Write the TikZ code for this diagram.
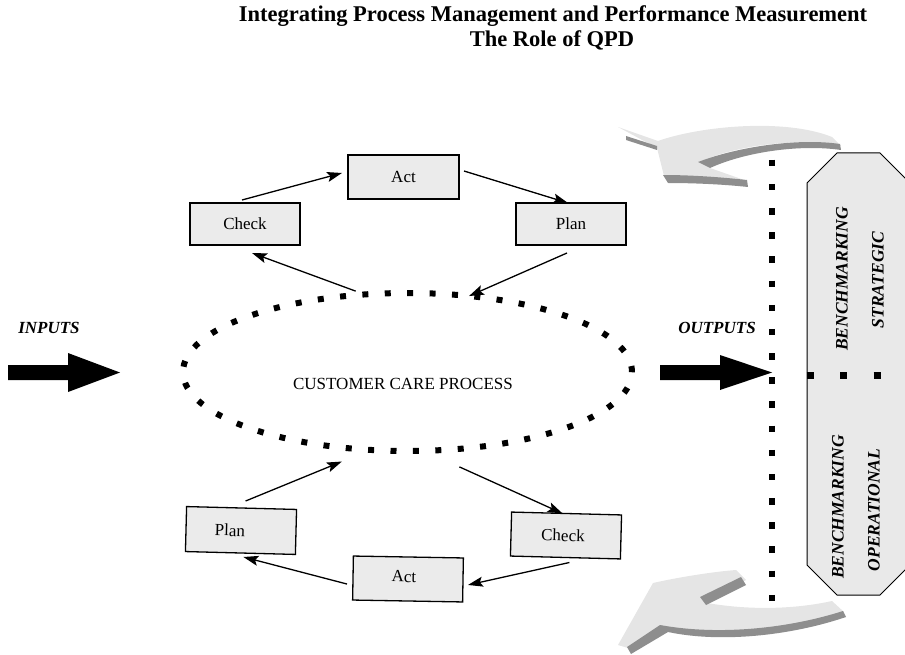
\documentclass[tikz,border=0pt]{standalone}
\usepackage{fontspec}
\setmainfont{Liberation Serif}
\usetikzlibrary{arrows.meta,shapes.geometric}
\definecolor{boxfill}{RGB}{235,235,235}
\definecolor{octfill}{RGB}{233,233,233}
\definecolor{swoosh}{RGB}{229,229,229}
\definecolor{swooshshade}{RGB}{142,142,142}
\begin{document}
\begin{tikzpicture}[x=1pt,y=-1pt,
  stepbox/.style={draw,fill=boxfill,line width=1.3pt,inner sep=0pt,outer sep=0pt,
    minimum width=110pt,minimum height=43pt,font=\fontsize{17}{20}\selectfont},
  flow/.style={line width=1.3pt,-{Stealth[length=15pt,width=10pt,inset=3pt]}},
  procring/.style={ellipse,draw,line width=6pt,dash pattern=on 6pt off 16.42pt,
    inner sep=0pt,outer sep=0pt,minimum width=449pt,minimum height=158pt},
  bodytext/.style={inner sep=0pt,font=\fontsize{17}{20}\selectfont},
  tagtext/.style={inner sep=0pt,font=\fontsize{17}{20}\selectfont\bfseries\itshape},
  sidetext/.style={inner sep=0pt,rotate=90,font=\fontsize{17.5}{20}\selectfont\bfseries\itshape},
  titletext/.style={inner sep=0pt,font=\fontsize{22.5}{26}\selectfont\bfseries},
  bigarrow/.style={fill=black},
]
\useasboundingbox (0,0) rectangle (905,655);

% title
\node[titletext] (title1) at (553,16) {Integrating Process Management and Performance Measurement};
\node[titletext] (title2) at (552,40) {The Role of QPD};

% curved feedback arrows (light face with darker side faces)
\fill[swoosh] (618,127) -- (658,141) .. controls (700,126) and (785,118) .. (832,137)
  -- (841,146) .. controls (795,137) and (735,146) .. (699,162) -- (710,168) -- (747,181)
  -- (664,176) -- (657,148) -- cycle;
\fill[swooshshade] (698,162) .. controls (740,146) and (800,138) .. (840,144)
  -- (841,150) .. controls (800,144) and (745,152) .. (710,168) -- cycle;
\fill[swooshshade] (663,175) .. controls (690,175) and (720,177) .. (747,180)
  -- (748,187) .. controls (720,184) and (690,183) .. (668,183) -- cycle;
\fill[swooshshade] (626,136) -- (657,146) -- (657,150) -- (626,140) -- cycle;

\fill[swoosh] (618,645) -- (653,583) .. controls (675,578) and (710,572) .. (736,570)
  -- (746,580) -- (707,603) .. controls (760,612) and (805,607) .. (832,601)
  -- (844,612) .. controls (790,628) and (720,636) .. (668,629) -- (628,648) -- cycle;
\fill[swooshshade] (700,597) -- (741,577) -- (746,585) -- (706,605) -- cycle;
\fill[swooshshade] (627,647) -- (660,625) .. controls (720,636) and (790,628) .. (843,611)
  -- (846,617) .. controls (790,636) and (720,643) .. (668,632) -- (631,654) -- cycle;

% benchmarking panel
\filldraw[fill=octfill,draw=black,line width=1pt]
  (837,153) -- (880,153) -- (910,183) -- (910,565) -- (880,595) -- (837,595)
  -- (807,565) -- (807,183) -- cycle;
\draw[line width=7pt,dash pattern=on 7pt off 26.5pt] (806.5,375) -- (905,375);
\node[sidetext] (benchS) at (842,279) {BENCHMARKING};
\node[sidetext] (strat) at (878,280) {STRATEGIC};
\node[sidetext] (benchO) at (838,507) {BENCHMARKING};
\node[sidetext] (oper) at (874,510) {OPERATIONAL};

% boundary of the process
\draw[line width=6.5pt,dash pattern=on 6.5pt off 17.67pt] (772,159.75) -- (772,602);

% process
\node[procring] (proc) at (407.5,372) {};
\node[bodytext] (proctext) at (403,384) {CUSTOMER CARE PROCESS};

% inputs and outputs
\node[tagtext] (inlabel) at (49,328) {INPUTS};
\node[tagtext] (outlabel) at (717,328) {OUTPUTS};
\fill[bigarrow] (8,365) -- (68,365) -- (68,353) -- (120,372.5) -- (68,392) -- (68,380) -- (8,380) -- cycle;
\fill[bigarrow] (660,365) -- (720,365) -- (720,355) -- (772,372.5) -- (720,390) -- (720,380) -- (660,380) -- cycle;

% upper PDCA cycle
\node[stepbox,minimum width=111pt,minimum height=44pt] (actT) at (403.5,177) {Act};
\node[stepbox,minimum height=42pt] (checkT) at (245,224) {Check};
\node[stepbox,minimum height=42pt] (planT) at (571,224) {Plan};

% lower PDCA cycle
\node[stepbox,minimum height=45pt,rotate=-1.5] (planB) at (241,530.5) {Plan\hspace*{22pt}};
\node[stepbox,minimum height=44pt,rotate=-1.5] (checkB) at (566,535.5) {\raisebox{-2pt}{Check}\hspace*{6pt}};
\node[stepbox,minimum height=44pt,rotate=-1] (actB) at (408,579) {\raisebox{5pt}{Act}\hspace*{8pt}};

% connectors, upper cycle
\draw[flow] ([xshift=-3pt,yshift=3pt]checkT.north) -- ([xshift=-6pt,yshift=4pt]actT.west);
\draw[flow] ([xshift=5pt,yshift=6pt]actT.east) -- ([xshift=-3pt]planT.north);
\draw[flow] ([xshift=-4pt,yshift=-8pt]planT.south) -- (proc.51.3);
\draw[flow] ([yshift=4pt]proc.124) -- ([xshift=7pt,yshift=-8pt]checkT.south);

% connectors, lower cycle
\draw[flow] ([xshift=4pt,yshift=7pt]planB.north) -- ([yshift=-14pt]proc.229.6);
\draw[flow] ([yshift=-18pt]proc.304.4) -- ([xshift=-4pt]checkB.north);
\draw[flow] ([xshift=4pt,yshift=-5pt]checkB.south) -- ([xshift=5pt,yshift=-5pt]actB.east);
\draw[flow] ([xshift=-6pt,yshift=-6pt]actB.west) -- ([xshift=3pt,yshift=-4pt]planB.south);
\end{tikzpicture}
\end{document}
